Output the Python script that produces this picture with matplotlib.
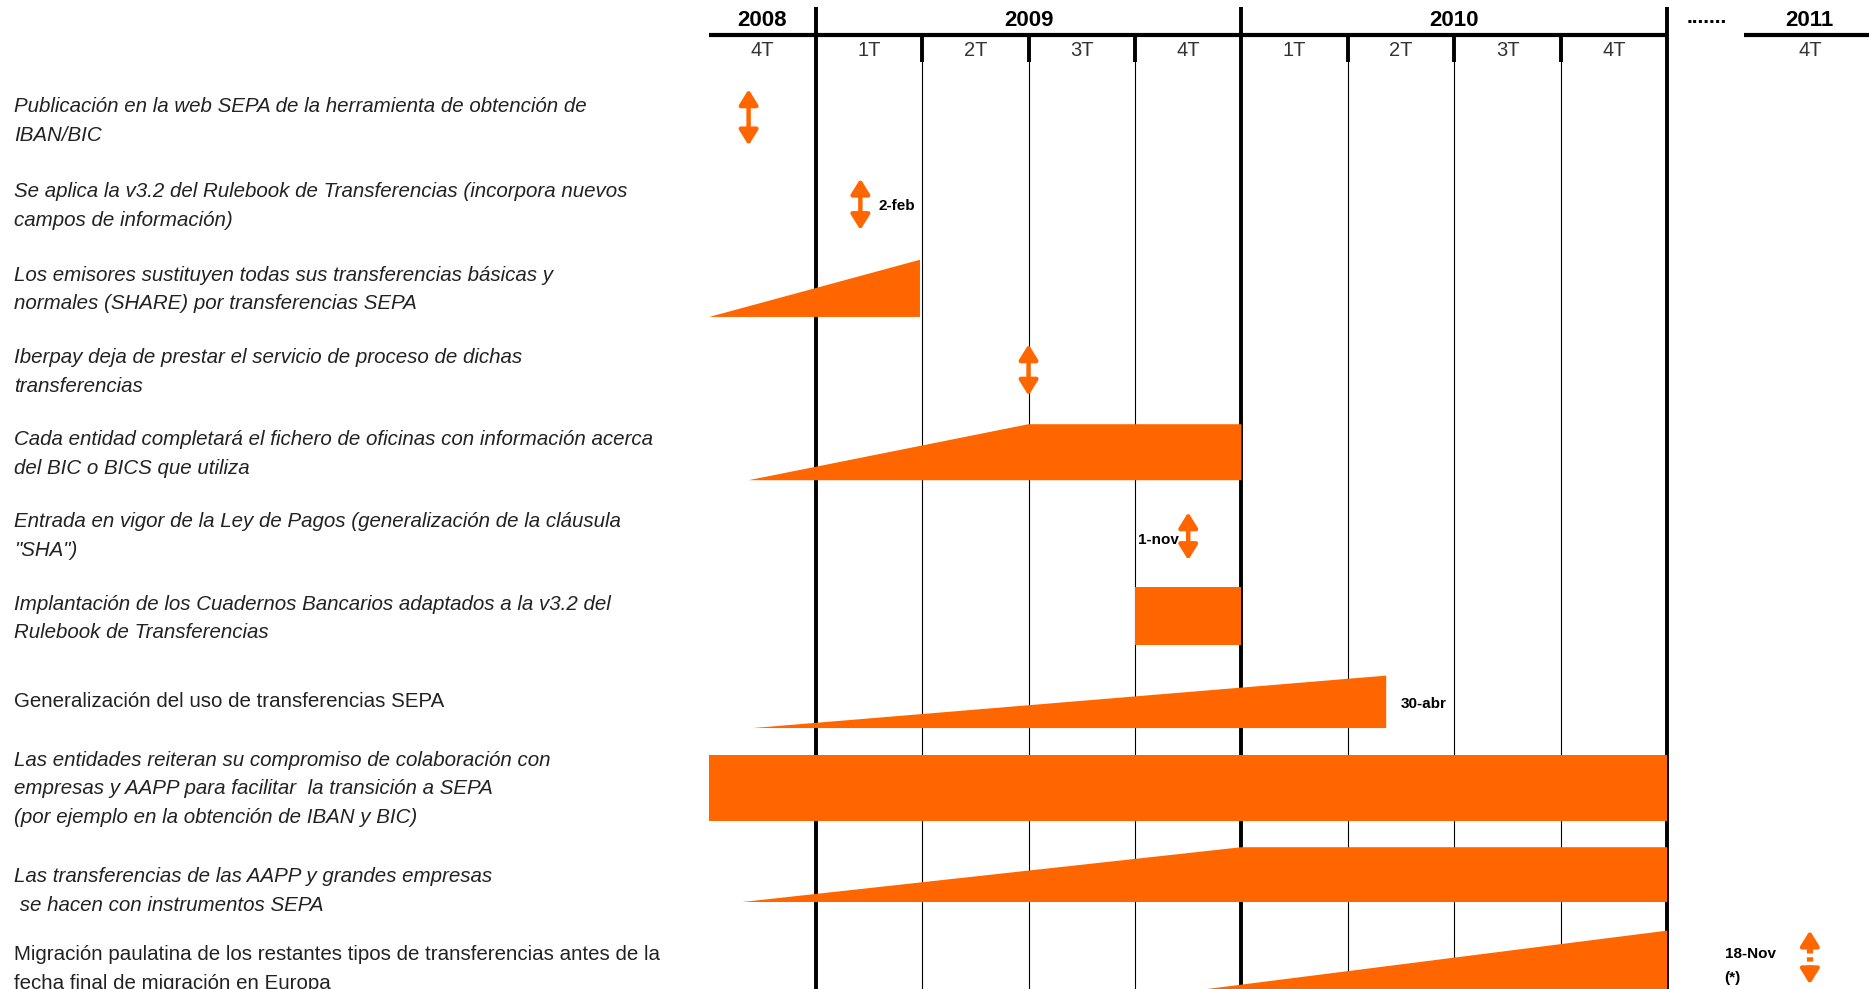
import numpy as np
import matplotlib
matplotlib.use("Agg")
import matplotlib.pyplot as plt
from matplotlib.patches import FancyArrowPatch

ORANGE = "#FF6600"

# timeline header: quarter index 0 = 2008 4T, 9 = end of 2010 4T
years = ["2008", "2009", "2010", "2011"]
year_pos = [0.5, 3.0, 7.0, 10.34]
quarters = ["4T", "1T", "2T", "3T", "4T", "1T", "2T", "3T", "4T", "4T"]
quarter_pos = [0.5, 1.5, 2.5, 3.5, 4.5, 5.5, 6.5, 7.5, 8.5, 10.34]
year_bounds = [1, 5, 9]
quarter_bounds = [2, 3, 4, 6, 7, 8]

labels = [
    "Publicación en la web SEPA de la herramienta de obtención de\nIBAN/BIC",
    "Se aplica la v3.2 del Rulebook de Transferencias (incorpora nuevos\ncampos de información)",
    "Los emisores sustituyen todas sus transferencias básicas y\nnormales (SHARE) por transferencias SEPA",
    "Iberpay deja de prestar el servicio de proceso de dichas\ntransferencias",
    "Cada entidad completará el fichero de oficinas con información acerca\ndel BIC o BICS que utiliza",
    "Entrada en vigor de la Ley de Pagos (generalización de la cláusula\n\"SHA\")",
    "Implantación de los Cuadernos Bancarios adaptados a la v3.2 del\nRulebook de Transferencias",
    "Generalización del uso de transferencias SEPA",
    "Las entidades reiteran su compromiso de colaboración con\nempresas y AAPP para facilitar  la transición a SEPA\n(por ejemplo en la obtención de IBAN y BIC)",
    "Las transferencias de las AAPP y grandes empresas\n se hacen con instrumentos SEPA",
    "Migración paulatina de los restantes tipos de transferencias antes de la\nfecha final de migración en Europa",
]
italic = [True, True, True, True, True, True, True, False, True, True, False]
label_y = [101.5, 173, 243, 312, 381, 450, 519, 589, 662, 748, 813]

# ramps/bars: start, point where full height is reached, end, top, bottom
bar_start = [0.0, 0.37, 4.0, 0.41, 0.0, 0.31, 4.5]
bar_full = [1.98, 3.0, 4.0, 6.36, 0.0, 5.0, 9.0]
bar_end = [1.98, 5.0, 5.0, 6.36, 9.0, 9.0, 9.0]
bar_top = [218, 356, 493, 567, 634, 711, 781]
bar_bottom = [266, 403, 541, 611, 689, 757, 832]

# milestones (double arrows)
ms_x = [0.37, 1.42, 3.0, 4.5, 10.34]
ms_top = [75, 150, 289, 430, 781]
ms_bottom = [122, 193, 332, 470, 826]
ms_dashed = [False, False, False, False, True]

notes = ["2-feb", "1-nov", "30-abr", "18-Nov\n(*)"]
note_x = [1.59, 4.03, 6.5, 9.54]
note_y = [173, 453, 591, 811]

fig = plt.figure(figsize=(18.69, 9.89), dpi=100)
ax = fig.add_axes([0, 0, 1, 1])
ax.set_xlim(-595 / 89.3, (1568 - 595) / 89.3)
ax.set_ylim(830, 0)
ax.axis("off")

FONT = "Liberation Sans"

# header
ax.plot([0, 9], [29, 29], color="black", lw=3, solid_capstyle="butt")
ax.plot([9.72, 11.5], [29, 29], color="black", lw=3, solid_capstyle="butt")
for x in year_bounds:
    ax.plot([x, x], [6, 830], color="black", lw=2.8, solid_capstyle="butt")
for x in quarter_bounds:
    ax.plot([x, x], [29, 830], color="black", lw=0.8)
    ax.plot([x, x], [29, 52], color="black", lw=2.8, solid_capstyle="butt")
for y, x in zip(years, year_pos):
    ax.text(x, 17, y, ha="center", va="center", fontsize=16, fontweight="bold", family=FONT)
ax.text(9.37, 15, ".......", ha="center", va="center", fontsize=15, fontweight="bold", family=FONT)
for q, x in zip(quarters, quarter_pos):
    ax.text(x, 42.5, q, ha="center", va="center", fontsize=14.5, color="#333333", family=FONT)

# row labels
for lab, it, y in zip(labels, italic, label_y):
    ax.text(-6.53, y, lab, ha="left", va="center", fontsize=14.8, color="#222222",
            style="italic" if it else "normal", family=FONT, linespacing=1.65)

# bars and ramps
for s, f, e, t, b in zip(bar_start, bar_full, bar_end, bar_top, bar_bottom):
    ax.fill([s, f, e, e], [b, t, t, b], color=ORANGE, lw=0, zorder=3)

# milestone arrows
style = "-|>,head_length=0.45,head_width=0.28"
head = 9  # head length in y units
for x, t, b, d in zip(ms_x, ms_top, ms_bottom, ms_dashed):
    if not d:
        arr = FancyArrowPatch((x, b), (x, t), arrowstyle="<|-|>,head_length=0.45,head_width=0.28",
                              mutation_scale=20, color=ORANGE, lw=3.2,
                              shrinkA=0, shrinkB=0, zorder=4)
        ax.add_patch(arr)
    else:
        ax.plot([x, x], [t + head, b - head], color=ORANGE, lw=4.5,
                linestyle=(0, (0.7, 0.6)), zorder=4)
        for end, start in [(t, t + head), (b, b - head)]:
            arr = FancyArrowPatch((x, start), (x, end), arrowstyle=style,
                                  mutation_scale=20, color=ORANGE, lw=3.2,
                                  shrinkA=0, shrinkB=0, zorder=4)
            ax.add_patch(arr)

for n, x, y in zip(notes, note_x, note_y):
    ax.text(x, y, n, ha="left", va="center", fontsize=11, fontweight="bold",
            family=FONT, linespacing=1.9)

fig.savefig("out.png", dpi=100)
